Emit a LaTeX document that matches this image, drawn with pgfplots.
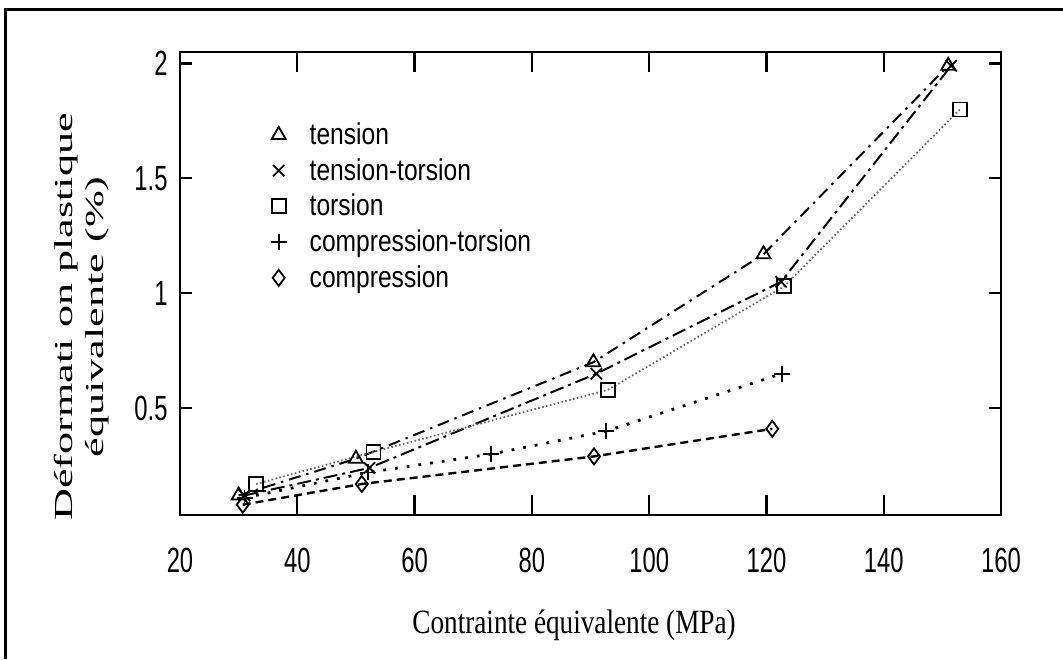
\documentclass[border=0pt]{standalone}
\usepackage{pgfplots}
\pgfplotsset{compat=1.18}
\usepackage{fontspec}
\setmainfont{Liberation Serif}
\newfontfamily\ticksans[FakeStretch=0.68]{Liberation Sans}
\newfontfamily\legsans[FakeStretch=0.82]{Liberation Sans}
\newfontfamily\xlabfont[FakeStretch=0.8]{Liberation Serif}
\newfontfamily\ylabfont[FakeStretch=1.7]{Liberation Serif}

\begin{document}
\begin{tikzpicture}
\useasboundingbox (0,0) rectangle (531.5pt,329.5pt);
\draw[line width=1.5pt] (2.5pt,0) -- (2.5pt,324.5pt) -- (531.5pt,324.5pt);
\begin{axis}[
  at={(90pt,72pt)}, anchor=south west,
  scale only axis, width=410.5pt, height=231.5pt,
  xmin=20, xmax=160, ymin=0.035, ymax=2.05,
  xtick={20,40,...,160}, ytick={0.5,1,1.5,2},
  axis line style={line width=1.2pt},
  tick style={line width=1.1pt, black},
  xtick style={/pgfplots/major tick length=10pt},
  ytick style={/pgfplots/major tick length=6pt},
  /pgf/number format/assume math mode=true,
  ticklabel style={font=\ticksans\fontsize{17.5}{20}\selectfont},
  xticklabel style={yshift=-13pt},
  yticklabel style={xshift=-2.7pt},
  legend style={at={(axis description cs:0.11,0.855)}, anchor=north west, draw=none, fill=none, inner sep=0pt,
    font=\legsans\fontsize{15}{17}\selectfont, row sep=2.5pt, column sep=10pt, nodes={inner sep=1.5pt}},
  legend cell align=left,
  legend image code/.code={\draw[#1, only marks] plot coordinates {(0pt,0pt)};},
  clip=false,
]
\addplot[black, line width=1pt, dash pattern=on 6pt off 3pt on 1.2pt off 3pt, mark=triangle, mark size=4pt, mark options={solid, line width=0.9pt}]
  coordinates {(30,0.12) (50,0.28) (90.5,0.70) (119.5,1.17) (151,1.99)};
\addlegendentry{tension}
\addplot[black, line width=1pt, dash pattern=on 7pt off 2.5pt on 1.5pt off 2.5pt, mark=x, mark size=4pt, mark options={solid, line width=0.9pt}]
  coordinates {(31,0.12) (52.3,0.24) (91,0.65) (122.5,1.05) (151.5,1.99)};
\addlegendentry{tension-torsion}
\addplot[black!60, line width=0.9pt, dash pattern=on 0.8pt off 1.2pt, mark=square, mark size=3.5pt, mark options={solid, black, line width=0.9pt}]
  coordinates {(33,0.17) (53,0.31) (93,0.58) (123,1.03) (153,1.80)};
\addlegendentry{torsion}
\addplot[black, line width=1.4pt, dash pattern=on 1.4pt off 4.5pt, mark=+, mark size=4pt, mark options={solid, line width=0.9pt}]
  coordinates {(31,0.11) (52,0.22) (73,0.30) (92.7,0.40) (122.6,0.65)};
\addlegendentry{compression-torsion}
\addplot[black, line width=1.2pt, dash pattern=on 4pt off 2.5pt, mark=diamond, mark size=4pt, mark options={solid, line width=0.9pt}]
  coordinates {(30.7,0.08) (51,0.17) (90.6,0.29) (121,0.41)};
\addlegendentry{compression}
\node[rotate=90, align=center, font=\ylabfont\fontsize{13}{15.5}\selectfont] at (axis description cs:-0.12,0.428) {Déformati on plastique\\équivalente (\%)};
\node[font=\xlabfont\fontsize{17}{20}\selectfont] at (axis description cs:0.48,-0.2376) {Contrainte équivalente (MPa)};
\end{axis}
\end{tikzpicture}
\end{document}
